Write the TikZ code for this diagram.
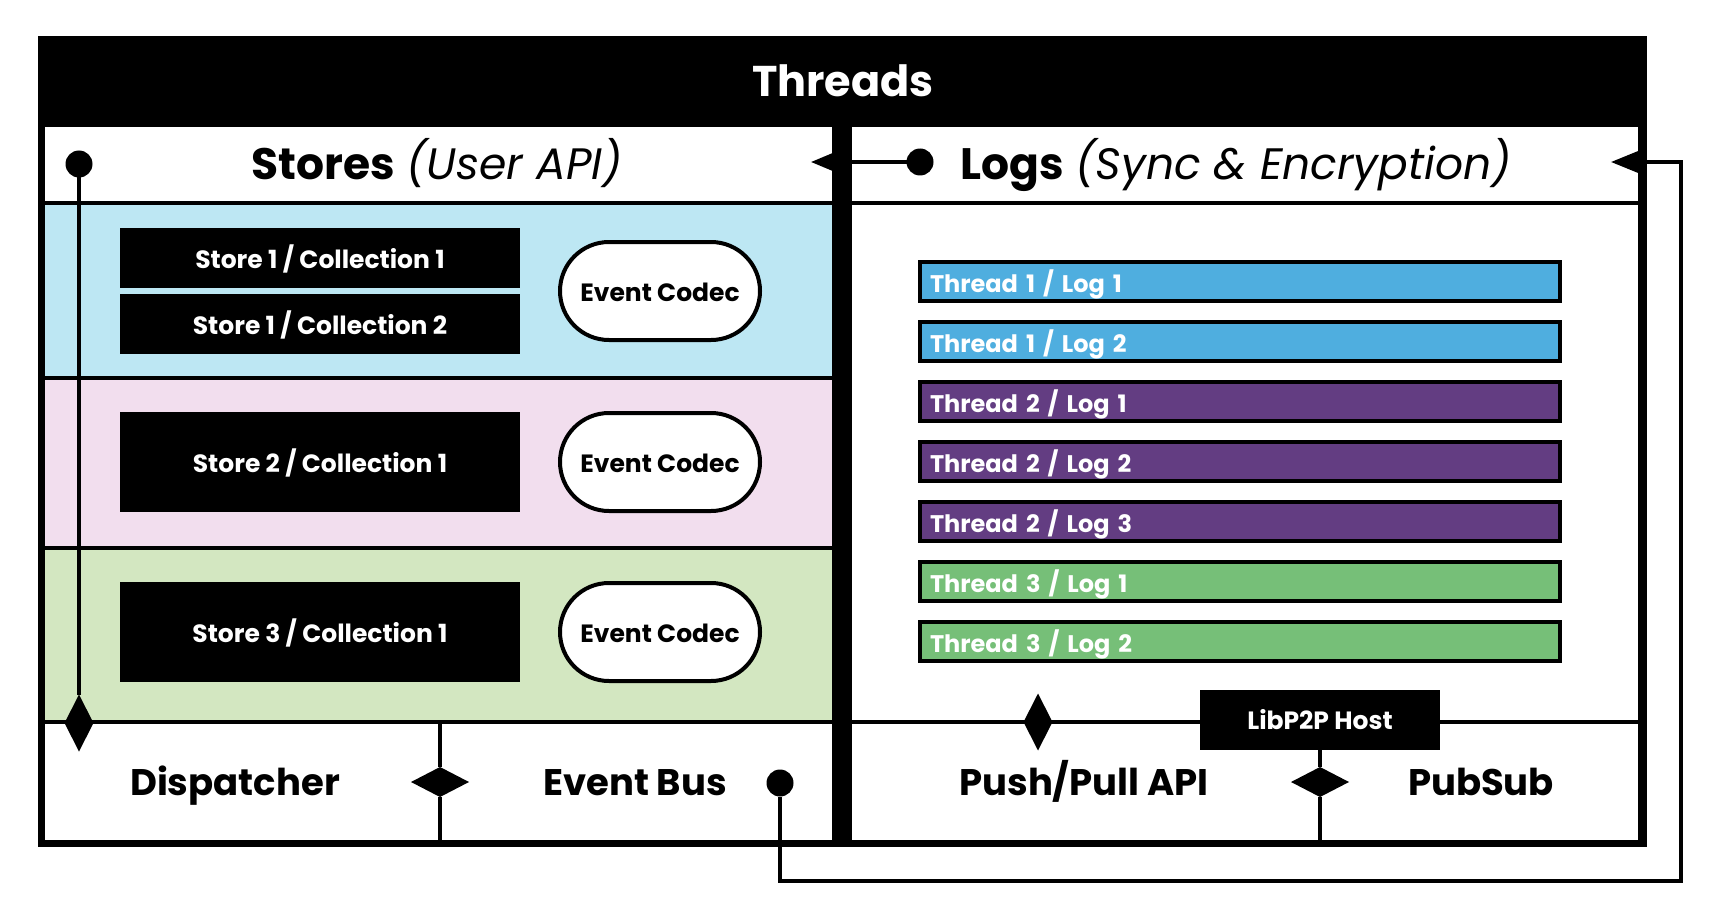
\documentclass[tikz,border=0pt]{standalone}
\usepackage{fontspec}
\setmainfont{Poppins}
\usetikzlibrary{arrows.meta,shapes.geometric}
\definecolor{thbandblue}{RGB}{189,231,243}
\definecolor{thbandpink}{RGB}{242,222,238}
\definecolor{thbandgreen}{RGB}{211,231,193}
\definecolor{thlogblue}{RGB}{79,174,223}
\definecolor{thlogpurple}{RGB}{99,61,130}
\definecolor{thloggreen}{RGB}{118,191,120}

\begin{document}
\begin{tikzpicture}[x=1pt,y=-1pt,line width=3.5pt,
  storebox/.style={fill=black,text=white,inner sep=0pt,minimum width=400pt,
    text height=21pt,text depth=0pt,font=\fontsize{25}{29}\selectfont\bfseries},
  codec/.style={draw,fill=white,line width=4pt,rounded corners=49pt,
    minimum width=200pt,minimum height=98pt,text height=21pt,text depth=0pt,
    font=\fontsize{25}{29}\selectfont\bfseries},
  logbar/.style={draw,line width=4pt,anchor=west,text=white,inner xsep=10pt,
    text width=620pt,minimum height=39pt,align=left,text height=23pt,text depth=0pt,
    font=\fontsize{24}{28}\selectfont\bfseries},
  dot/.style={circle,fill=black,inner sep=0pt,outer sep=0pt,minimum size=27pt},
  vdiam/.style={diamond,fill=black,inner sep=0pt,outer sep=0pt,minimum width=29pt,minimum height=57pt},
  hdiam/.style={diamond,fill=black,inner sep=0pt,outer sep=0pt,minimum width=58pt,minimum height=30pt},
  part/.style={text height=25pt,text depth=0pt,font=\fontsize{37}{43}\selectfont\bfseries},
  head/.style={text height=31pt,text depth=0pt,font=\fontsize{44}{50}\selectfont}]
  \fill[white] (0,0) rectangle (1720,920);
  \useasboundingbox (0,0) rectangle (1720,920);
  \fill[black] (38,36) rectangle (1647,847);
  \fill[white] (45,127) rectangle (832,840);
  \fill[white] (852,127) rectangle (1638,840);
  \fill[thbandblue] (45,203) rectangle (832,378);
  \fill[thbandpink] (45,378) rectangle (832,548);
  \fill[thbandgreen] (45,548) rectangle (832,722);
  \draw (45,203) -- (832,203) (852,203) -- (1638,203);
  \draw (45,378) -- (832,378) (45,548) -- (832,548);
  \draw (45,722) -- (832,722) (852,722) -- (1638,722);

  \node[head,text=white,text height=34pt,font=\fontsize{43}{50}\selectfont\bfseries] (threads) at (843,80) {Threads};
  \node[head] (stores) at (437,164) {\textbf{Stores} \textit{(User API)}};
  \node[head] (logs) at (1236,164) {\textbf{Logs} \textit{(Sync \& Encryption)}};

  \node[storebox,minimum height=60pt] (s1c1) at (320,258) {Store 1 / Collection 1};
  \node[storebox,minimum height=60pt] (s1c2) at (320,324) {Store 1 / Collection 2};
  \node[storebox,minimum height=100pt] (s2c1) at (320,462) {Store 2 / Collection 1};
  \node[storebox,minimum height=100pt] (s3c1) at (320,632) {Store 3 / Collection 1};
  \node[codec] (codec1) at (660,291) {Event Codec};
  \node[codec] (codec2) at (660,462) {Event Codec};
  \node[codec] (codec3) at (660,632) {Event Codec};

  \node[logbar,fill=thlogblue] (t1l1) at (918,281) {Thread 1 / Log 1};
  \node[logbar,fill=thlogblue] (t1l2) at (918,341) {Thread 1 / Log 2};
  \node[logbar,fill=thlogpurple] (t2l1) at (918,401) {Thread 2 / Log 1};
  \node[logbar,fill=thlogpurple] (t2l2) at (918,461) {Thread 2 / Log 2};
  \node[logbar,fill=thlogpurple] (t2l3) at (918,521) {Thread 2 / Log 3};
  \node[logbar,fill=thloggreen] (t3l1) at (918,581) {Thread 3 / Log 1};
  \node[logbar,fill=thloggreen] (t3l2) at (918,641) {Thread 3 / Log 2};

  \node[part] (dispatcher) at (235,783) {Dispatcher};
  \node[part] (eventbus) at (635,783) {Event Bus};
  \node[part] (pushpull) at (1084,783) {Push/Pull API};
  \node[part] (pubsub) at (1481,783) {PubSub};
  \node[fill=black,text=white,outer sep=0pt,minimum width=240pt,minimum height=60pt,
    font=\fontsize{25}{29}\selectfont\bfseries] (libp2p) at (1320,720) {LibP2P Host};

  \coordinate (disptop) at (440,722);
  \coordinate (dispbot) at (440,840);
  \coordinate (p2pbot) at (1320,840);
  \node[hdiam] (dispdiam) at (440,782) {};
  \node[hdiam] (p2pdiam) at (1320,782) {};
  \node[vdiam] (storesdiam) at (79,723) {};
  \node[vdiam] (pushdiam) at (1038,722) {};
  \draw (disptop) -- (dispdiam) -- (dispbot);
  \draw (libp2p) -- (p2pdiam) -- (p2pbot);

  \node[dot] (storesdot) at (79,164) {};
  \node[dot] (logsdot) at (920,162) {};
  \node[dot] (busdot) at (780,783) {};
  \coordinate (storesin) at (811,162);
  \coordinate (logsin) at (1611,162);
  \draw (storesdot) -- (storesdiam);
  \draw[-{Triangle[length=30pt,width=24pt]}] (logsdot) -- (storesin);
  \draw[-{Triangle[length=32pt,width=25pt]}] (busdot) -- (780,881) -| (1681,162) -- (logsin);
\end{tikzpicture}
\end{document}
